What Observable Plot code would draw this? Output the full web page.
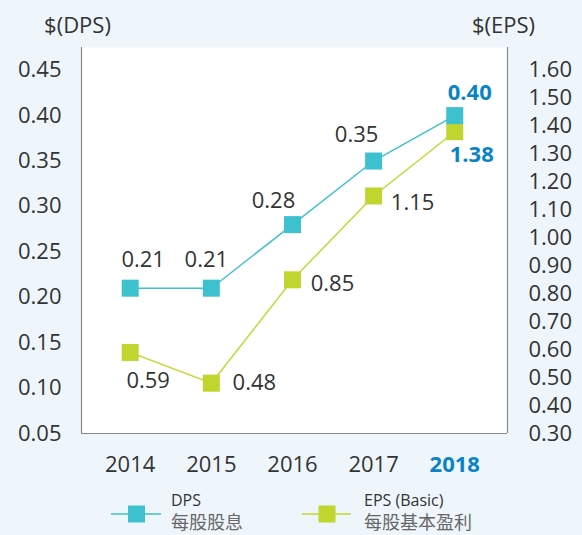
<!DOCTYPE html>
<html>
<head>
<meta charset="utf-8">
<script src="https://cdn.jsdelivr.net/npm/d3@7"></script>
<script src="https://cdn.jsdelivr.net/npm/@observablehq/plot@0.6"></script>
<style>
  html, body { margin: 0; padding: 0; background: #eef6fc; }
  body { width: 582px; height: 535px; overflow: hidden; font-family: "Open Sans", "Noto Sans CJK TC", sans-serif; }
  #chart svg { display: block; }
  #legend { display: block; }
</style>
</head>
<body>
<div id="chart"></div>
<svg id="legend" width="582" height="55"></svg>
<script>
// ---- data ----
const years = [2014, 2015, 2016, 2017, 2018];
const dps = [0.21, 0.21, 0.28, 0.35, 0.40];
const eps = [0.59, 0.48, 0.85, 1.15, 1.38];
const dpsTicks = [0.05, 0.10, 0.15, 0.20, 0.25, 0.30, 0.35, 0.40, 0.45];
const epsTicks = [0.30, 0.40, 0.50, 0.60, 0.70, 0.80, 0.90, 1.00, 1.10, 1.20, 1.30, 1.40, 1.50, 1.60];
const seriesNames = ["DPS", "EPS (Basic)"];
const seriesNamesZh = ["每股股息", "每股基本盈利"];
const axisTitles = ["$(DPS)", "$(EPS)"];
const highlightYear = 2018;

// ---- layout / style ----
const teal = "#3dc1ce";
const lime = "#c0d62f";
const blue = "#0a83c6";
const ink = "#333333";
const font = "'Open Sans', 'Noto Sans CJK TC', sans-serif";
// right axis (EPS) aligned to left axis (DPS): 0.30 <-> 0.05, 1.60 <-> 0.45
const epsToY = e => 0.05 + (e - 0.30) / 3.25;
const dpsOff = [[13, -28], [-5, -28], [-19, -24], [-17, -26], [15, -23]];
const epsOff = [[18, 28], [43, 0], [40, 4], [39, 7], [17, 23]];

const rows = years.map((year, i) => ({year, dps: dps[i], eps: eps[i], i}));

const labelMarks = [];
rows.forEach((r, i) => {
  const hl = r.year === highlightYear;
  labelMarks.push(Plot.text([r], {
    x: "year", y: "dps", text: d => d.dps.toFixed(2),
    dx: dpsOff[i][0], dy: dpsOff[i][1],
    fill: hl ? blue : ink, fontWeight: hl ? "bold" : "normal", fontSize: 22
  }));
  labelMarks.push(Plot.text([r], {
    x: "year", y: d => epsToY(d.eps), text: d => d.eps.toFixed(2),
    dx: epsOff[i][0], dy: epsOff[i][1],
    fill: hl ? blue : ink, fontWeight: hl ? "bold" : "normal", fontSize: 22
  }));
});

const xDomain = [2013.4, 2018.65];
const normalYears = years.filter(y => y !== highlightYear);
const hlYears = years.filter(y => y === highlightYear);

const chart = Plot.plot({
  width: 582,
  height: 480,
  marginLeft: 81,
  marginRight: 75,
  marginTop: 47,
  marginBottom: 47,
  style: {background: "transparent", fontFamily: font, overflow: "visible"},
  x: {domain: xDomain, axis: null},
  y: {domain: [0.05, 0.475], axis: null},
  marks: [
    Plot.frame({fill: "white", stroke: null}),
    Plot.ruleX(xDomain, {stroke: "#8a8a8a", strokeWidth: 1.2}),
    Plot.ruleY([0.05], {stroke: "#8a8a8a", strokeWidth: 1.2}),
    // left axis
    Plot.text(dpsTicks, {y: d => d, text: d => d.toFixed(2), frameAnchor: "left", lineAnchor: "middle", dx: -20, textAnchor: "end", fontSize: 22, fill: ink}),
    // right axis
    Plot.text(epsTicks, {y: d => epsToY(d), text: d => d.toFixed(2), frameAnchor: "right", lineAnchor: "middle", dx: 21, textAnchor: "start", fontSize: 22, fill: ink}),
    // x axis
    Plot.text(normalYears, {x: d => d, text: d => String(d), frameAnchor: "bottom", lineAnchor: "middle", dy: 31, fontSize: 22, fill: ink}),
    Plot.text(hlYears, {x: d => d, text: d => String(d), frameAnchor: "bottom", lineAnchor: "middle", dy: 31, fontSize: 22, fill: blue, fontWeight: "bold"}),
    // axis titles
    Plot.text([axisTitles[0]], {frameAnchor: "top-left", lineAnchor: "middle", dx: -4, dy: -22, textAnchor: "middle", fontSize: 22, fill: ink}),
    Plot.text([axisTitles[1]], {frameAnchor: "top-right", lineAnchor: "middle", dx: -4, dy: -22, textAnchor: "middle", fontSize: 22, fill: ink}),
    // lines
    Plot.line(rows, {x: "year", y: d => epsToY(d.eps), stroke: lime, strokeWidth: 1.4}),
    Plot.line(rows, {x: "year", y: "dps", stroke: teal, strokeWidth: 1.4}),
    Plot.dot(rows, {x: "year", y: d => epsToY(d.eps), symbol: "square", r: 9.6, fill: lime, stroke: null}),
    Plot.dot(rows, {x: "year", y: "dps", symbol: "square", r: 9.6, fill: teal, stroke: null}),
    ...labelMarks
  ]
});
document.getElementById("chart").appendChild(chart);

// legend
const legend = d3.select("#legend");
const items = [
  {color: teal, x0: 111, x1: 161, sq: 136.5, tx: 171, name: seriesNames[0], zh: seriesNamesZh[0]},
  {color: lime, x0: 302, x1: 351, sq: 327, tx: 364, name: seriesNames[1], zh: seriesNamesZh[1]}
];
const ly = 514 - 480;
items.forEach(it => {
  legend.append("line").attr("x1", it.x0).attr("x2", it.x1).attr("y1", ly).attr("y2", ly)
    .attr("stroke", it.color).attr("stroke-width", 1.4);
  legend.append("rect").attr("x", it.sq - 8.5).attr("y", ly - 8.5).attr("width", 17).attr("height", 17).attr("fill", it.color);
  legend.append("text").attr("x", it.tx).attr("y", 506 - 480).attr("font-size", 16).attr("fill", "#333")
    .attr("font-family", font).text(it.name);
  legend.append("text").attr("x", it.tx).attr("y", 529 - 480).attr("font-size", 18).attr("fill", "#666")
    .attr("font-family", font).text(it.zh);
});
</script>
</body>
</html>
